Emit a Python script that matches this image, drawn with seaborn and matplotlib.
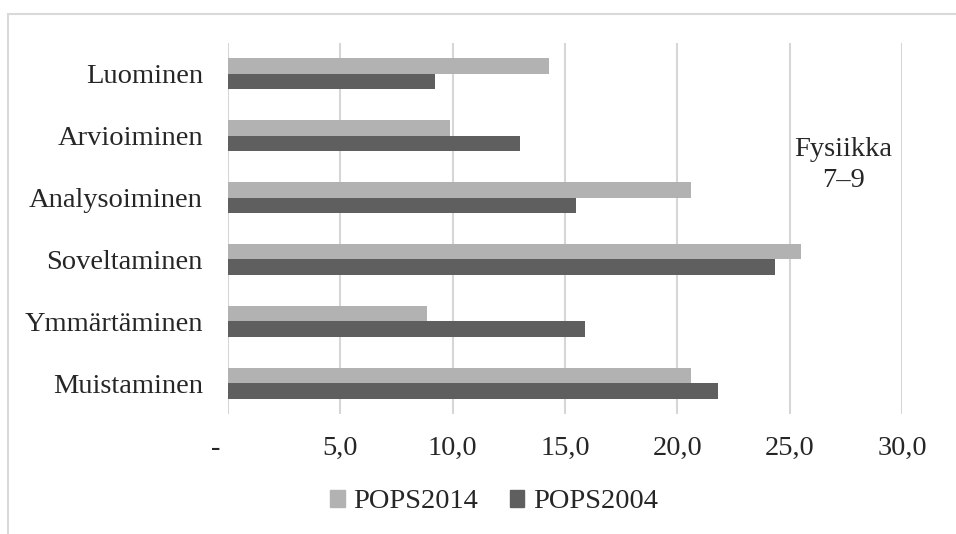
import numpy as np
import pandas as pd
import matplotlib
matplotlib.use("Agg")
import matplotlib.pyplot as plt
import matplotlib.transforms as mtransforms
from matplotlib.patches import Rectangle
import seaborn as sns

categories = ["Luominen", "Arvioiminen", "Analysoiminen", "Soveltaminen", "Ymmärtäminen", "Muistaminen"]
pops2014 = [14.3, 9.9, 20.6, 25.5, 8.85, 20.6]
pops2004 = [9.2, 13.0, 15.5, 24.35, 15.9, 21.8]
series = ["POPS2014", "POPS2004"]
colors = ["#B2B2B2", "#5F5F5F"]
tick_values = [0, 5, 10, 15, 20, 25, 30]
tick_labels = ["-", "5,0", "10,0", "15,0", "20,0", "25,0", "30,0"]

df = pd.DataFrame({
    "kategoria": categories * 2,
    "arvo": pops2014 + pops2004,
    "sarja": [series[0]] * len(categories) + [series[1]] * len(categories),
})

sns.set_style("white")
plt.rcParams["font.family"] = ["Liberation Serif", "DejaVu Serif"]
FS = 20.5

W, H = 956, 534
fig = plt.figure(figsize=(W / 100, H / 100), dpi=100)
ax = fig.add_axes([228 / W, 1 - 414 / H, (902 - 228) / W, (414 - 43) / H])

sns.barplot(data=df, y="kategoria", x="arvo", hue="sarja", order=categories,
            hue_order=series, palette=colors, orient="h", width=0.5,
            linewidth=0, ax=ax, legend=False)

ax.set_xlim(0, 30)
ax.set_ylim(len(categories) - 0.5, -0.5)
ax.set_xticks(tick_values)
ax.set_xticklabels(tick_labels)
ax.xaxis.grid(True, color="#D6D6D6", linewidth=1.5)
ax.set_axisbelow(True)
for s in ax.spines.values():
    s.set_visible(False)
ax.tick_params(axis="x", length=0, pad=16, labelsize=FS)
ax.tick_params(axis="y", length=0, pad=18, labelsize=FS)
ax.set_xlabel("")
ax.set_ylabel("")

# nudge the "-" label left like in the original
lbl0 = ax.get_xticklabels()[0]
lbl0.set_transform(lbl0.get_transform() + mtransforms.ScaledTranslation(-0.12, 0, fig.dpi_scale_trans))

fig.text(843 / W, 1 - 165 / H, "Fysiikka\n7–9", ha="center", va="center",
         fontsize=FS, linespacing=1.35)

handles = [Rectangle((0, 0), 1, 1, color=c) for c in colors]
fig.legend(handles, series, loc="center", bbox_to_anchor=(494 / W, 1 - 502 / H),
           ncol=2, frameon=False, fontsize=FS, handlelength=0.52, handleheight=0.52,
           handletextpad=0.3, columnspacing=1.1)

# outer chart border (extends beyond the crop)
fig.patches.append(Rectangle((7.5 / W, -0.1), 1.2, 1 - 14 / H + 0.1, transform=fig.transFigure,
                             fill=False, edgecolor="#D9D9D9", linewidth=1.5))

fig.savefig("out.png", dpi=100)
